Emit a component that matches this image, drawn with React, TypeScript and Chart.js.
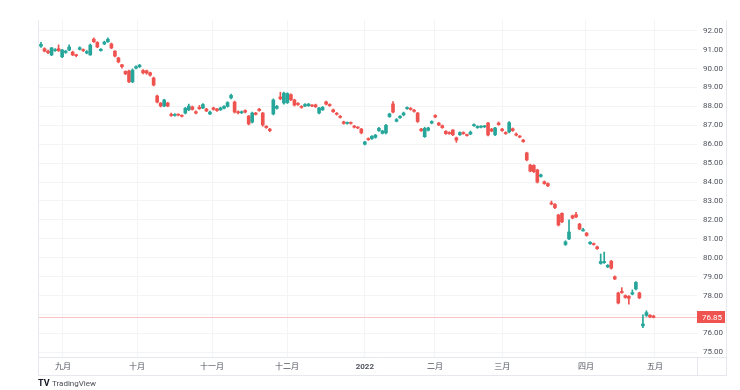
import React, { useEffect, useRef } from 'react';
import { Chart, registerables } from 'chart.js';
Chart.register(...registerables);

const opens = [91.18,91.05,90.92,90.72,90.95,91.05,90.62,90.85,90.98,90.87,90.72,91.02,91.00,90.82,90.72,91.55,91.38,90.95,91.30,91.42,91.30,90.92,90.56,90.20,89.85,89.87,89.30,90.02,90.10,89.90,89.88,89.78,89.50,88.55,88.18,88.02,88.18,87.58,87.52,87.56,87.52,87.65,87.82,87.97,87.72,87.95,87.92,87.86,87.60,87.92,87.86,87.82,87.90,88.00,88.45,88.23,87.72,87.66,87.78,87.49,87.17,87.65,87.85,87.65,86.95,86.80,87.60,87.90,88.50,88.18,88.20,88.62,88.34,88.16,88.00,88.02,88.04,88.06,88.08,87.65,87.82,88.24,88.10,87.82,87.64,87.48,87.18,87.10,87.14,86.96,86.90,86.80,86.00,86.30,86.30,86.36,86.72,86.58,86.60,87.46,88.13,87.22,87.40,87.55,87.88,87.90,87.80,87.65,86.80,86.40,86.74,87.12,87.52,87.12,86.98,86.68,86.62,86.75,86.34,86.50,86.62,86.50,86.54,86.98,86.88,86.90,86.92,87.12,86.80,86.50,87.12,86.80,86.62,86.65,86.82,86.54,86.42,86.22,85.54,84.90,84.88,84.64,84.30,84.02,83.92,82.90,82.82,82.26,82.35,80.70,81.00,82.22,82.28,81.78,81.42,81.30,80.74,80.74,80.58,79.70,79.74,79.52,79.82,79.00,78.14,78.22,78.00,77.96,78.08,78.35,78.14,76.40,76.95,76.96,76.92];
const highs = [91.38,91.10,90.97,91.12,91.05,91.25,91.02,90.96,91.25,90.92,90.76,91.15,91.04,90.95,91.30,91.62,91.42,91.05,91.45,91.62,91.35,90.95,90.60,90.22,89.88,89.92,89.98,90.15,90.22,89.95,89.92,89.82,89.55,88.60,88.20,88.38,88.22,87.65,87.62,87.60,87.55,87.95,88.12,88.02,87.76,88.05,88.15,87.90,87.75,87.96,87.90,87.96,88.04,88.25,88.65,88.28,87.76,87.76,87.82,87.52,87.70,87.68,87.90,87.68,86.98,86.84,88.40,88.05,88.75,88.75,88.72,88.66,88.38,88.20,88.04,88.15,88.16,88.10,88.12,87.95,88.00,88.28,88.14,87.86,87.68,87.52,87.22,87.18,87.18,87.00,86.92,86.84,86.16,86.34,86.46,86.52,86.90,86.74,87.05,87.64,88.25,87.36,87.52,87.70,87.98,87.94,87.84,87.68,86.84,86.90,86.90,87.24,87.56,87.16,87.02,86.72,86.66,86.78,86.38,86.66,86.66,86.54,86.70,87.08,86.98,86.98,87.00,87.16,86.84,86.90,87.18,86.84,86.66,87.20,86.86,86.60,86.46,86.26,85.58,84.94,84.92,84.68,84.42,84.06,83.96,83.00,82.86,82.30,82.38,80.90,82.00,82.26,82.40,81.82,81.55,81.34,80.86,80.78,80.62,80.20,80.30,79.64,79.86,79.04,78.18,78.42,78.04,78.00,78.30,78.74,78.18,76.98,77.20,77.00,76.96];
const lows = [91.12,90.88,90.78,90.68,90.90,90.90,90.58,90.80,90.94,90.68,90.62,90.98,90.90,90.78,90.70,91.38,91.10,90.92,91.26,91.38,91.05,90.62,90.30,90.02,89.68,89.25,89.25,89.98,90.05,89.72,89.70,89.60,89.08,88.18,87.97,87.98,87.98,87.47,87.48,87.50,87.44,87.60,87.78,87.80,87.60,87.84,87.88,87.72,87.56,87.80,87.74,87.78,87.86,87.96,88.40,87.65,87.60,87.62,87.66,87.02,87.12,87.54,87.74,86.95,86.84,86.66,87.55,87.85,88.35,88.12,88.15,88.30,88.02,88.05,87.90,87.98,88.00,87.98,87.94,87.60,87.78,88.08,88.00,87.68,87.54,87.38,87.06,87.06,87.06,86.86,86.82,86.55,85.96,86.20,86.26,86.32,86.68,86.54,86.55,87.42,87.65,87.18,87.36,87.50,87.84,87.80,87.70,87.15,86.68,86.36,86.70,87.08,87.40,86.98,86.84,86.52,86.52,86.45,86.10,86.46,86.52,86.42,86.50,86.94,86.84,86.86,86.88,86.44,86.66,86.45,87.00,86.68,86.52,86.60,86.68,86.44,86.34,86.10,85.12,84.54,84.50,83.95,84.26,83.88,83.76,82.80,82.60,81.68,81.86,80.65,80.96,82.06,82.12,81.48,81.40,81.14,80.70,80.66,80.44,79.66,79.70,79.48,79.40,78.84,77.56,78.12,77.86,77.55,78.04,78.30,77.84,76.30,76.90,76.84,76.82];
const closes = [91.28,90.92,90.84,91.09,91.00,90.95,90.98,90.92,91.14,90.72,90.68,91.10,90.95,90.90,91.24,91.42,91.14,91.02,91.40,91.55,91.09,90.66,90.35,90.10,89.72,89.30,89.92,90.10,90.18,89.78,89.76,89.65,89.13,88.23,88.02,88.34,88.02,87.52,87.56,87.54,87.48,87.90,88.02,87.84,87.65,87.88,88.10,87.76,87.70,87.84,87.78,87.92,88.00,88.20,88.58,87.70,87.66,87.72,87.70,87.07,87.65,87.58,87.78,87.02,86.88,86.72,88.34,88.00,88.40,88.70,88.68,88.35,88.07,88.10,87.95,88.10,88.12,88.02,87.98,87.91,87.95,88.12,88.04,87.72,87.58,87.42,87.10,87.14,87.10,86.90,86.86,86.60,86.12,86.24,86.42,86.48,86.84,86.70,87.00,87.60,87.70,87.30,87.48,87.65,87.94,87.84,87.74,87.20,86.72,86.84,86.86,87.20,87.44,87.02,86.88,86.56,86.56,86.50,86.22,86.62,86.56,86.46,86.64,87.04,86.94,86.94,86.96,86.49,86.70,86.86,87.04,86.72,86.56,87.14,86.72,86.48,86.38,86.14,85.17,84.58,84.55,84.00,84.38,83.92,83.80,82.84,82.65,81.73,81.90,80.84,81.36,82.10,82.16,81.52,81.48,81.18,80.82,80.70,80.48,79.80,79.80,79.60,79.45,78.88,77.61,78.16,77.90,77.86,78.16,78.70,77.88,76.50,77.10,76.88,76.85];

const monthTicks = [6.25, 27.3, 48.6, 69.9, 92, 111.9, 131, 154.8, 174.4];
const monthLabels = ['九月', '十月', '十一月', '十二月', '2022', '二月', '三月', '四月', '五月'];
const priceTicks = [75, 76, 77, 78, 79, 80, 81, 82, 83, 84, 85, 86, 87, 88, 89, 90, 91, 92];
const lastPrice = 76.85;

const UP = '#26a69a';
const DOWN = '#ef5350';
const FONT = "Roboto, 'Noto Sans CJK SC', sans-serif";

export default function App() {
  const ref = useRef<HTMLCanvasElement>(null);
  useEffect(() => {
    if (!ref.current) return;
    const colors = closes.map((c, i) => (c >= opens[i] ? UP : DOWN));
    const overlay = {
      id: 'tvOverlay',
      beforeDatasetsDraw(chart: any) {
        const { ctx, chartArea, scales } = chart;
        const y = Math.round(scales.y.getPixelForValue(lastPrice)) + 0.5;
        ctx.save();
        ctx.strokeStyle = '#f8c4c3';
        ctx.lineWidth = 1;
        ctx.beginPath();
        ctx.moveTo(chartArea.left, y);
        ctx.lineTo(chartArea.right, y);
        ctx.stroke();
        ctx.restore();
      },
      afterDraw(chart: any) {
        const { ctx, chartArea, scales } = chart;
        const y = Math.round(scales.y.getPixelForValue(lastPrice));
        ctx.save();
        ctx.strokeStyle = '#e6e8ee';
        ctx.lineWidth = 1;
        ctx.beginPath();
        ctx.moveTo(38.5, chartArea.top);
        ctx.lineTo(38.5, 375);
        ctx.moveTo(726.5, chartArea.top);
        ctx.lineTo(726.5, 375);
        ctx.moveTo(38, 357.5);
        ctx.lineTo(727, 357.5);
        ctx.moveTo(38, 375.5);
        ctx.lineTo(727, 375.5);
        ctx.moveTo(697.5, 357);
        ctx.lineTo(697.5, 375);
        ctx.stroke();
        ctx.fillStyle = '#ef5350';
        ctx.fillRect(chartArea.right, y - 6, 28, 12);
        ctx.fillStyle = '#ffffff';
        ctx.font = `8px ${FONT}`;
        ctx.textAlign = 'left';
        ctx.textBaseline = 'middle';
        ctx.fillText(lastPrice.toFixed(2), chartArea.right + 5, y + 0.5);
        ctx.fillStyle = '#131722';
        ctx.font = `bold 9px ${FONT}`;
        ctx.fillText('TV', 38, 384);
        ctx.fillStyle = '#4a4d57';
        ctx.font = `8px ${FONT}`;
        ctx.fillText('TradingView', 52, 384);
        ctx.restore();
      },
    };

    const chart = new Chart(ref.current, {
      type: 'bar',
      data: {
        datasets: [
          {
            data: opens.map((o, i) => ({ x: i, y: [o, closes[i]] })) as any,
            backgroundColor: colors,
            barThickness: 3,
            grouped: false,
            minBarLength: 1,
            borderWidth: 0,
          } as any,
          {
            data: highs.map((h, i) => ({ x: i, y: [lows[i], h] })) as any,
            backgroundColor: colors,
            barThickness: 1,
            grouped: false,
            borderWidth: 0,
          } as any,
        ],
      },
      options: {
        responsive: false,
        animation: false,
        devicePixelRatio: 1,
        layout: { padding: { left: 38, top: 20, right: 13, bottom: 15 } },
        plugins: { legend: { display: false }, tooltip: { enabled: false } },
        scales: {
          x: {
            type: 'linear',
            min: -0.85,
            max: 186.36,
            offset: false,
            position: 'bottom',
            afterFit: (s: any) => { s.height = 18; },
            afterBuildTicks: (s: any) => { s.ticks = monthTicks.map((v) => ({ value: v })); },
            ticks: {
              autoSkip: false,
              maxRotation: 0,
              padding: 5,
              color: '#50535e',
              font: (c: any) => ({ size: 8, family: FONT, weight: c.index === 4 ? 'bold' : 'normal' }),
              callback: (_v: any, i: number) => monthLabels[i],
            },
            grid: { color: '#f3f4f6', drawTicks: false, offset: false },
            border: { display: false },
          } as any,
          y: {
            position: 'right',
            min: 74.755,
            max: 92.566,
            afterFit: (s: any) => { s.width = 30; },
            afterBuildTicks: (s: any) => { s.ticks = priceTicks.map((v) => ({ value: v })); },
            ticks: {
              padding: 6,
              color: '#50535e',
              font: { size: 8, family: FONT },
              callback: (v: any) => Number(v).toFixed(2),
            },
            grid: { color: '#f3f4f6', drawTicks: false },
            border: { display: false },
          } as any,
        },
      },
      plugins: [overlay],
    });
    return () => chart.destroy();
  }, []);
  return (
    <div style={{ position: 'absolute', left: 0, top: 0, width: 740, height: 390, background: '#ffffff' }}>
      <canvas ref={ref} width={740} height={390} style={{ width: 740, height: 390, display: 'block' }} />
    </div>
  );
}
